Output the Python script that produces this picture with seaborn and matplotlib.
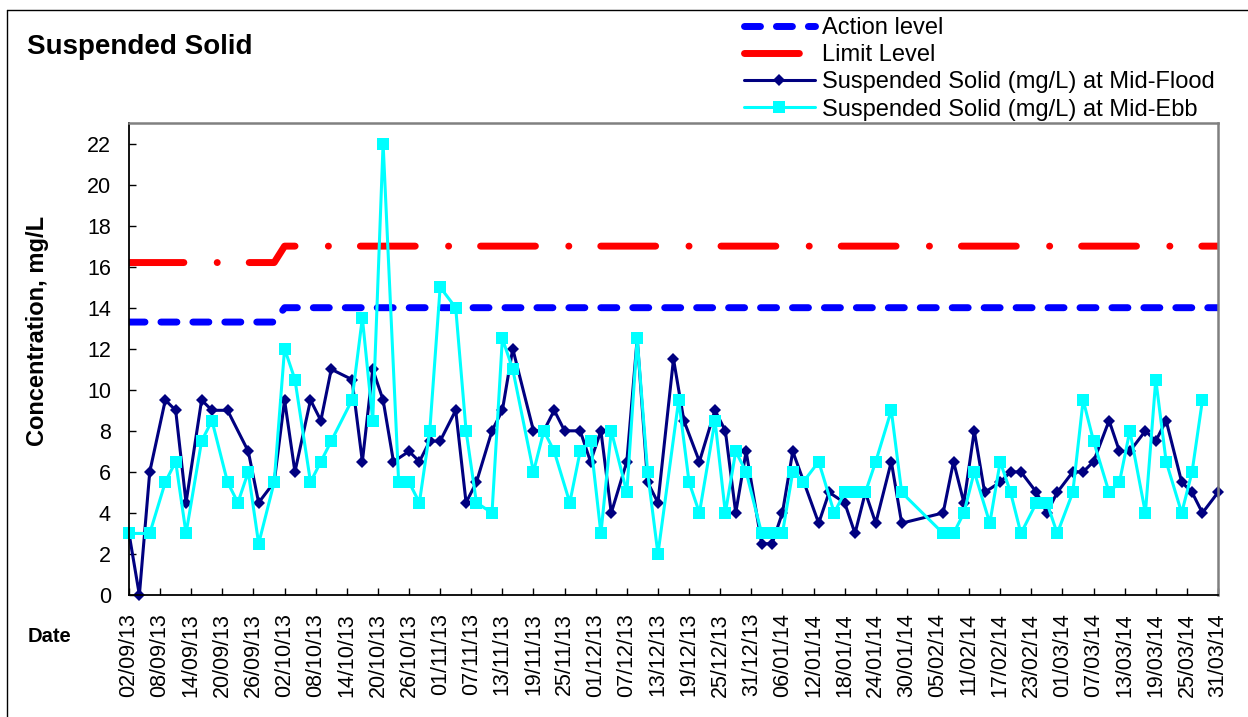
import matplotlib
matplotlib.use("Agg")
import matplotlib.pyplot as plt
import matplotlib.lines as mlines
import seaborn as sns
import pandas as pd

# sampling dates / values
flood_dates = [
    "2013-09-02", "2013-09-04", "2013-09-06", "2013-09-09", "2013-09-11", "2013-09-13",
    "2013-09-16", "2013-09-18", "2013-09-21", "2013-09-25", "2013-09-27", "2013-09-30",
    "2013-10-02", "2013-10-04", "2013-10-07", "2013-10-09", "2013-10-11", "2013-10-15",
    "2013-10-17", "2013-10-19", "2013-10-21", "2013-10-23", "2013-10-26", "2013-10-28",
    "2013-10-30", "2013-11-01", "2013-11-04", "2013-11-06", "2013-11-08", "2013-11-11",
    "2013-11-13", "2013-11-15", "2013-11-19", "2013-11-21", "2013-11-23", "2013-11-25",
    "2013-11-28", "2013-11-30", "2013-12-02", "2013-12-04", "2013-12-07", "2013-12-09",
    "2013-12-11", "2013-12-13", "2013-12-16", "2013-12-18", "2013-12-21", "2013-12-24",
    "2013-12-26", "2013-12-28", "2013-12-30", "2014-01-02", "2014-01-04", "2014-01-06",
    "2014-01-08", "2014-01-13", "2014-01-15", "2014-01-18", "2014-01-20", "2014-01-22",
    "2014-01-24", "2014-01-27", "2014-01-29", "2014-02-06", "2014-02-08", "2014-02-10",
    "2014-02-12", "2014-02-14", "2014-02-17", "2014-02-19", "2014-02-21", "2014-02-24",
    "2014-02-26", "2014-02-28", "2014-03-03", "2014-03-05", "2014-03-07", "2014-03-10",
    "2014-03-12", "2014-03-14", "2014-03-17", "2014-03-19", "2014-03-21", "2014-03-24",
    "2014-03-26", "2014-03-28", "2014-03-31",
]
flood_values = [
    3.0, 0.0, 6.0, 9.5, 9.0, 4.5,
    9.5, 9.0, 9.0, 7.0, 4.5, 5.5,
    9.5, 6.0, 9.5, 8.5, 11.0, 10.5,
    6.5, 11.0, 9.5, 6.5, 7.0, 6.5,
    7.5, 7.5, 9.0, 4.5, 5.5, 8.0,
    9.0, 12.0, 8.0, 8.0, 9.0, 8.0,
    8.0, 6.5, 8.0, 4.0, 6.5, 12.5,
    5.5, 4.5, 11.5, 8.5, 6.5, 9.0,
    8.0, 4.0, 7.0, 2.5, 2.5, 4.0,
    7.0, 3.5, 5.0, 4.5, 3.0, 5.0,
    3.5, 6.5, 3.5, 4.0, 6.5, 4.5,
    8.0, 5.0, 5.5, 6.0, 6.0, 5.0,
    4.0, 5.0, 6.0, 6.0, 6.5, 8.5,
    7.0, 7.0, 8.0, 7.5, 8.5, 5.5,
    5.0, 4.0, 5.0,
]

ebb_dates = [
    "2013-09-02", "2013-09-06", "2013-09-09", "2013-09-11", "2013-09-13", "2013-09-16",
    "2013-09-18", "2013-09-21", "2013-09-23", "2013-09-25", "2013-09-27", "2013-09-30",
    "2013-10-02", "2013-10-04", "2013-10-07", "2013-10-09", "2013-10-11", "2013-10-15",
    "2013-10-17", "2013-10-19", "2013-10-21", "2013-10-24", "2013-10-26", "2013-10-28",
    "2013-10-30", "2013-11-01", "2013-11-04", "2013-11-06", "2013-11-08", "2013-11-11",
    "2013-11-13", "2013-11-15", "2013-11-19", "2013-11-21", "2013-11-23", "2013-11-26",
    "2013-11-28", "2013-11-30", "2013-12-02", "2013-12-04", "2013-12-07", "2013-12-09",
    "2013-12-11", "2013-12-13", "2013-12-17", "2013-12-19", "2013-12-21", "2013-12-24",
    "2013-12-26", "2013-12-28", "2013-12-30", "2014-01-02", "2014-01-04", "2014-01-06",
    "2014-01-08", "2014-01-10", "2014-01-13", "2014-01-16", "2014-01-18", "2014-01-20",
    "2014-01-22", "2014-01-24", "2014-01-27", "2014-01-29", "2014-02-06", "2014-02-08",
    "2014-02-10", "2014-02-12", "2014-02-15", "2014-02-17", "2014-02-19", "2014-02-21",
    "2014-02-24", "2014-02-26", "2014-02-28", "2014-03-03", "2014-03-05", "2014-03-07",
    "2014-03-10", "2014-03-12", "2014-03-14", "2014-03-17", "2014-03-19", "2014-03-21",
    "2014-03-24", "2014-03-26", "2014-03-28",
]
ebb_values = [
    3.0, 3.0, 5.5, 6.5, 3.0, 7.5,
    8.5, 5.5, 4.5, 6.0, 2.5, 5.5,
    12.0, 10.5, 5.5, 6.5, 7.5, 9.5,
    13.5, 8.5, 22.0, 5.5, 5.5, 4.5,
    8.0, 15.0, 14.0, 8.0, 4.5, 4.0,
    12.5, 11.0, 6.0, 8.0, 7.0, 4.5,
    7.0, 7.5, 3.0, 8.0, 5.0, 12.5,
    6.0, 2.0, 9.5, 5.5, 4.0, 8.5,
    4.0, 7.0, 6.0, 3.0, 3.0, 3.0,
    6.0, 5.5, 6.5, 4.0, 5.0, 5.0,
    5.0, 6.5, 9.0, 5.0, 3.0, 3.0,
    4.0, 6.0, 3.5, 6.5, 5.0, 3.0,
    4.5, 4.5, 3.0, 5.0, 9.5, 7.5,
    5.0, 5.5, 8.0, 4.0, 10.5, 6.5,
    4.0, 6.0, 9.5,
]

level_dates = ["2013-09-02", "2013-09-30", "2013-10-02", "2014-03-31"]
action_level = [13.3, 13.3, 14.0, 14.0]
limit_level = [16.2, 16.2, 17.0, 17.0]

labels = ["Action level", "Limit Level",
          "Suspended Solid (mg/L) at Mid-Flood", "Suspended Solid (mg/L) at Mid-Ebb"]

sns.set_theme(style="white")
plt.rcParams["font.family"] = ["Liberation Sans", "DejaVu Sans"]
plt.rcParams["text.color"] = "black"
plt.rcParams["axes.labelcolor"] = "black"
plt.rcParams["xtick.color"] = "black"
plt.rcParams["ytick.color"] = "black"

W, H = 1248, 717
fig = plt.figure(figsize=(W / 100, H / 100), dpi=100)
ax = fig.add_axes([129 / W, 1 - 595 / H, (1218 - 129) / W, (595 - 123) / H])

lv = pd.DataFrame({"date": pd.to_datetime(level_dates),
                   "action": action_level, "limit": limit_level})
fl = pd.DataFrame({"date": pd.to_datetime(flood_dates), "value": flood_values})
eb = pd.DataFrame({"date": pd.to_datetime(ebb_dates), "value": ebb_values})

sns.lineplot(data=lv, x="date", y="action", ax=ax, color="#0000FF", lw=5)
act_line = ax.lines[-1]
act_line.set_dashes((2.3, 2.3))
act_line.set_dash_capstyle("round")
act_line.set_solid_capstyle("round")

sns.lineplot(data=lv, x="date", y="limit", ax=ax, color="#FF0000", lw=5)
lim_line = ax.lines[-1]
lim_line.set_dashes((7.9, 4.8, 0.01, 4.6))
lim_line.set_dash_capstyle("round")
lim_line.set_solid_capstyle("round")

sns.lineplot(data=fl, x="date", y="value", ax=ax, color="#000080", lw=2.2,
             marker="D", markersize=6.5, markeredgewidth=0, clip_on=False)
fl_line = ax.lines[-1]
sns.lineplot(data=eb, x="date", y="value", ax=ax, color="#00FFFF", lw=2.2,
             marker="s", markersize=8, markeredgewidth=0, clip_on=False)
eb_line = ax.lines[-1]

ax.set_xlim(pd.Timestamp("2013-09-02"), pd.Timestamp("2014-03-31"))
ax.set_ylim(0, 23)
ax.set_yticks(range(0, 23, 2))
ticks = pd.date_range("2013-09-02", "2014-03-31", freq="6D")
ax.set_xticks(ticks)
ax.set_xticklabels([t.strftime("%d/%m/%y") for t in ticks], rotation=90)
ax.set_xlabel("")
ax.set_ylabel("")
ax.tick_params(axis="both", direction="in", length=5, width=1, color="black",
               labelsize=15.5, labelcolor="black", bottom=True, left=True, pad=13)

for side in ["left", "bottom"]:
    ax.spines[side].set_color("black")
    ax.spines[side].set_linewidth(1.3)
for side in ["top", "right"]:
    ax.spines[side].set_color("#808080")
    ax.spines[side].set_linewidth(1.8)

fig.text(27 / W, 1 - 54 / H, "Suspended Solid", fontsize=20, fontweight="bold",
         va="baseline", ha="left", color="black")
fig.text(38 / W, 1 - 331 / H, "Concentration, mg/L", fontsize=17, fontweight="bold",
         rotation=90, va="center", ha="center", color="black")
fig.text(28 / W, 1 - 637 / H, "Date", fontsize=14.5, fontweight="bold",
         va="center", ha="left", color="black")

leg = fig.legend([act_line, lim_line, fl_line, eb_line], labels, loc="upper left",
                 bbox_to_anchor=(744 / W, 1 - 17 / H), frameon=False, fontsize=17,
                 handlelength=3.0, handletextpad=0.3, labelspacing=0.22,
                 borderpad=0, borderaxespad=0)
for t in leg.get_texts():
    t.set_color("black")

# chart border
fig.add_artist(mlines.Line2D([7 / W, 7 / W], [0, 1 - 10 / H], color="black", lw=1))
fig.add_artist(mlines.Line2D([7 / W, 1], [1 - 10 / H, 1 - 10 / H], color="black", lw=1))

fig.savefig("out.png", dpi=100)
